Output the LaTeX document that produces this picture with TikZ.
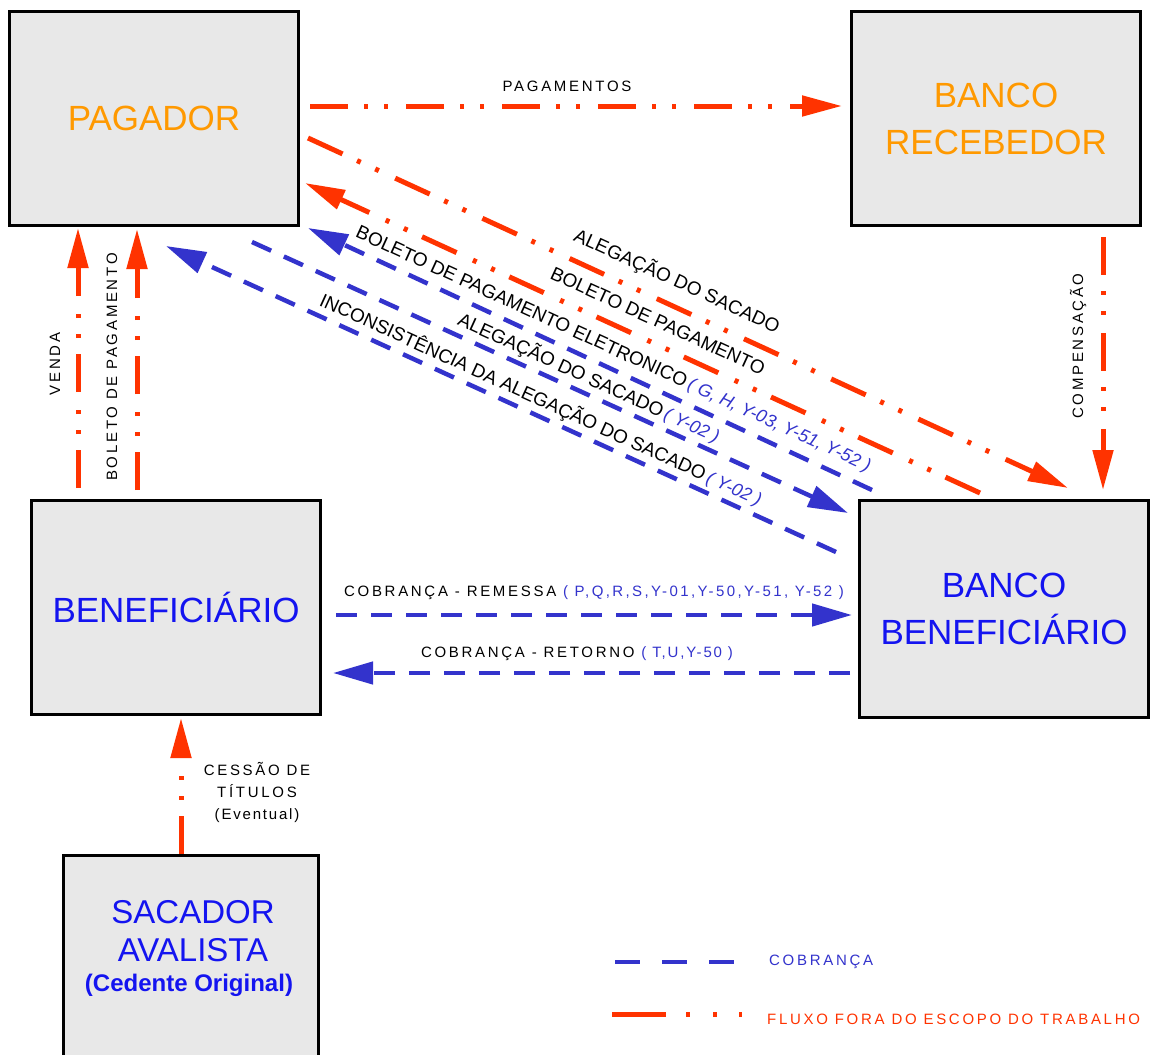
\documentclass[tikz,border=0pt]{standalone}
\usepackage{fontspec}
\setmainfont{Liberation Sans}
\newfontfamily\spc[LetterSpace=18]{Liberation Sans}
\newfontfamily\spb[LetterSpace=12]{Liberation Sans}
\newfontfamily\spd[LetterSpace=16]{Liberation Sans}
\usetikzlibrary{arrows.meta}
\definecolor{boxgray}{RGB}{232,232,232}
\definecolor{orng}{RGB}{255,153,0}
\definecolor{bluetxt}{RGB}{20,20,240}
\definecolor{bluel}{RGB}{51,51,204}
\definecolor{redl}{RGB}{255,51,0}
\newcommand\blueparen[1]{{\color{bluel}\itshape\fontsize{18}{20}\selectfont #1}}
\begin{document}
\begin{tikzpicture}[x=1pt,y=-1pt,
 box/.style={draw=black,line width=3pt,fill=boxgray,minimum width=289pt,minimum height=214pt,inner sep=0pt,align=center,font=\fontsize{35}{47}\selectfont},
 fora/.style={draw=redl,line width=5pt,dash pattern=on 38pt off 16pt on 4pt off 16pt on 4pt off 18pt,-{Triangle[length=40pt,width=20pt]}},
 cobr/.style={draw=bluel,line width=4.5pt,dash pattern=on 21pt off 14pt,-{Triangle[length=40pt,width=22pt]}},
 diag/.style={font=\fontsize{19}{22}\selectfont,rotate=-24.6,inner sep=0pt},
 small/.style={font=\fontsize{15}{22}\selectfont\spc,inner sep=0pt},
]
\useasboundingbox (0,0) rectangle (1152,1055);
\fill[white] (0,0) rectangle (1152,1055);

% boxes
\node[box,text=orng] (pag) at (154,118.5) {PAGADOR};
\node[box,text=orng] (brec) at (996,118.5) {BANCO\\RECEBEDOR};
\node[box,text=bluetxt] (ben) at (176,607) {BENEFICIÁRIO};
\node[box,text=bluetxt,minimum height=217pt] (bben) at (1004,608.5) {BANCO\\BENEFICIÁRIO};
\node[box,minimum width=255pt] (sac) at (191,962) {};
\node[text=bluetxt,align=center,font=\fontsize{33}{38}\selectfont,inner sep=0pt] (sact) at (193,931) {SACADOR\\AVALISTA};
\node[text=bluetxt,font=\bfseries\fontsize{24}{28}\selectfont,inner sep=0pt] (sacc) at (189,985) {(Cedente Original)};

% red flows
\draw[fora] ([shift={(10,-12.5)}]pag.east) -- ([shift={(-8,-12.5)}]brec.west);
\draw[fora] ([shift={(8,19.5)}]pag.east) -- ([shift={(64,-10.5)}]bben.north);
\draw[fora] ([shift={(-24,-5.5)}]bben.north) -- ([shift={(5,64.5)}]pag.east);
\draw[fora] ([shift={(-98,-10.5)}]ben.north) -- ([shift={(-76,1)}]pag.south);
\draw[fora] ([shift={(-39,-8.5)}]ben.north) -- ([shift={(-17,2)}]pag.south);
\draw[fora] ([shift={(107,10)}]brec.south) -- ([shift={(99,-8.5)}]bben.north);
\draw[fora] ([shift={(-10,0)}]sac.north) -- ([shift={(5,2.5)}]ben.south);

% blue flows
\draw[cobr] ([shift={(-132,-8.5)}]bben.north) -- ([shift={(8,1)}]pag.south east);
\draw[cobr] ([shift={(-48,15)}]pag.south east) -- ([shift={(-10,14.5)}]bben.north west);
\draw[cobr] ([shift={(-22,53.5)}]bben.north west) -- ([shift={(12,19)}]pag.south);
\draw[cobr] ([shift={(14,8)}]ben.east) -- ([shift={(-6,6.5)}]bben.west);
\draw[cobr] ([shift={(-8,64.5)}]bben.west) -- ([shift={(11,66)}]ben.east);

% labels
\node[small] (lpag) at (567,86) {PAGAMENTOS};
\node[diag] (lal1) at (677,281) {ALEGAÇÃO DO SACADO};
\node[diag] (lbol1) at (658,321) {BOLETO DE PAGAMENTO};
\node[diag] (lbol2) at (613,350) {BOLETO DE PAGAMENTO ELETRONICO\blueparen{\,( G, H, Y-03, Y-51, Y-52 )}};
\node[diag] (lal2) at (589,378) {ALEGAÇÃO DO SACADO\blueparen{\,( Y-02 )}};
\node[diag] (linc) at (541,400) {INCONSISTÊNCIA DA ALEGAÇÃO DO SACADO\blueparen{\,( Y-02 )}};
\node[small,rotate=90] (lven) at (55,364) {VENDA};
\node[small,rotate=90] (lbolv) at (112,367) {BOLETO DE PAGAMENTO};
\node[small,rotate=90] (lcomp) at (1078,346) {COMPENSAÇÃO};
\node[small,align=center] (lces) at (257,792) {CESSÃO DE\\TÍTULOS\\{\spb(Eventual)}};
\node[small] (lrem) at (594,593) {COBRANÇA - REMESSA {\spd\color{bluel}( P,Q,R,S,Y-01,Y-50,Y-51, Y-52 )}};
\node[small] (lret) at (577,654) {COBRANÇA - RETORNO {\spb\color{bluel}( T,U,Y-50 )}};

% legend
\coordinate (lga) at (615,962);
\coordinate (lgb) at (735,962);
\coordinate (lgc) at (612,1014);
\coordinate (lgd) at (742,1014);
\draw[draw=bluel,line width=4.5pt,dash pattern=on 25pt off 22pt] (lga) -- (lgb);
\draw[draw=redl,line width=5pt,dash pattern=on 54pt off 20pt on 4pt off 23pt on 4pt off 22pt] (lgc) -- (lgd);
\node[small,text=bluel,anchor=west] (lgt1) at (769,962) {COBRANÇA};
\node[small,text=redl,anchor=west] (lgt2) at (767,1019) {FLUXO FORA DO ESCOPO DO TRABALHO};
\end{tikzpicture}
\end{document}
